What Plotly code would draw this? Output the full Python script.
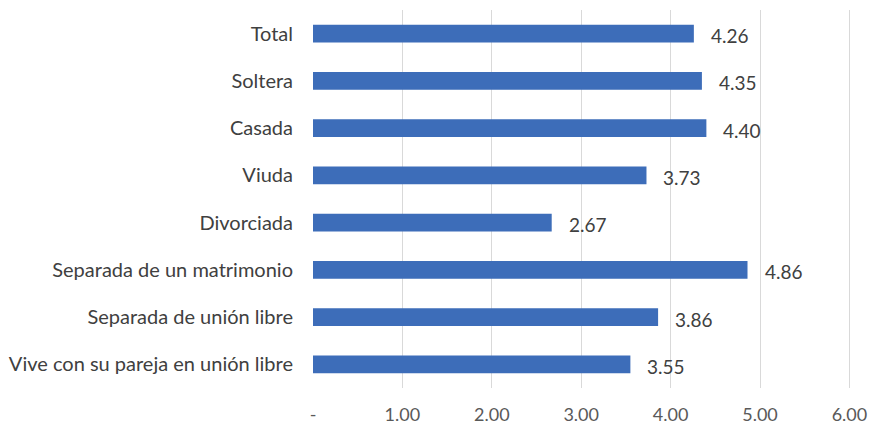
import plotly.graph_objects as go

categories = ["Total", "Soltera", "Casada", "Viuda", "Divorciada",
              "Separada de un matrimonio", "Separada de unión libre",
              "Vive con su pareja en unión libre"]
values = [4.26, 4.35, 4.40, 3.73, 2.67, 4.86, 3.86, 3.55]
tick_vals = [0, 1, 2, 3, 4, 5, 6]
tick_text = ["-", "1.00", "2.00", "3.00", "4.00", "5.00", "6.00"]

FONT = "Lato, 'Open Sans', sans-serif"

fig = go.Figure()
fig.add_trace(go.Bar(
    y=categories, x=values, orientation="h",
    marker=dict(color="#3D6DB9", line=dict(width=0)),
    width=0.38,
))

for c, v in zip(categories, values):
    fig.add_annotation(x=v, y=c, xref="x", yref="y", text=f"{v:.2f}",
                       showarrow=False, xanchor="left", xshift=15, yshift=-2,
                       font=dict(family=FONT, size=19, color="#404040"))

fig.update_layout(
    width=870, height=424,
    margin=dict(l=313, r=17, t=10, b=36),
    paper_bgcolor="white", plot_bgcolor="white",
    showlegend=False,
    font=dict(family=FONT, size=17, color="#404040"),
    xaxis=dict(range=[0, 6.04], tickvals=tick_vals, ticktext=tick_text,
               showgrid=True, gridcolor="#D9D9D9", gridwidth=1,
               zeroline=False, showline=False, automargin=False,
               ticks="", ticklabelstandoff=14,
               tickfont=dict(family=FONT, size=18, color="#595959")),
    yaxis=dict(categoryorder="array", categoryarray=categories,
               autorange="reversed", showgrid=False, zeroline=False,
               showline=False, ticks="", ticklabelstandoff=19, automargin=False,
               tickfont=dict(family=FONT, size=20, color="#404040")),
)

fig.write_html("out.html")
